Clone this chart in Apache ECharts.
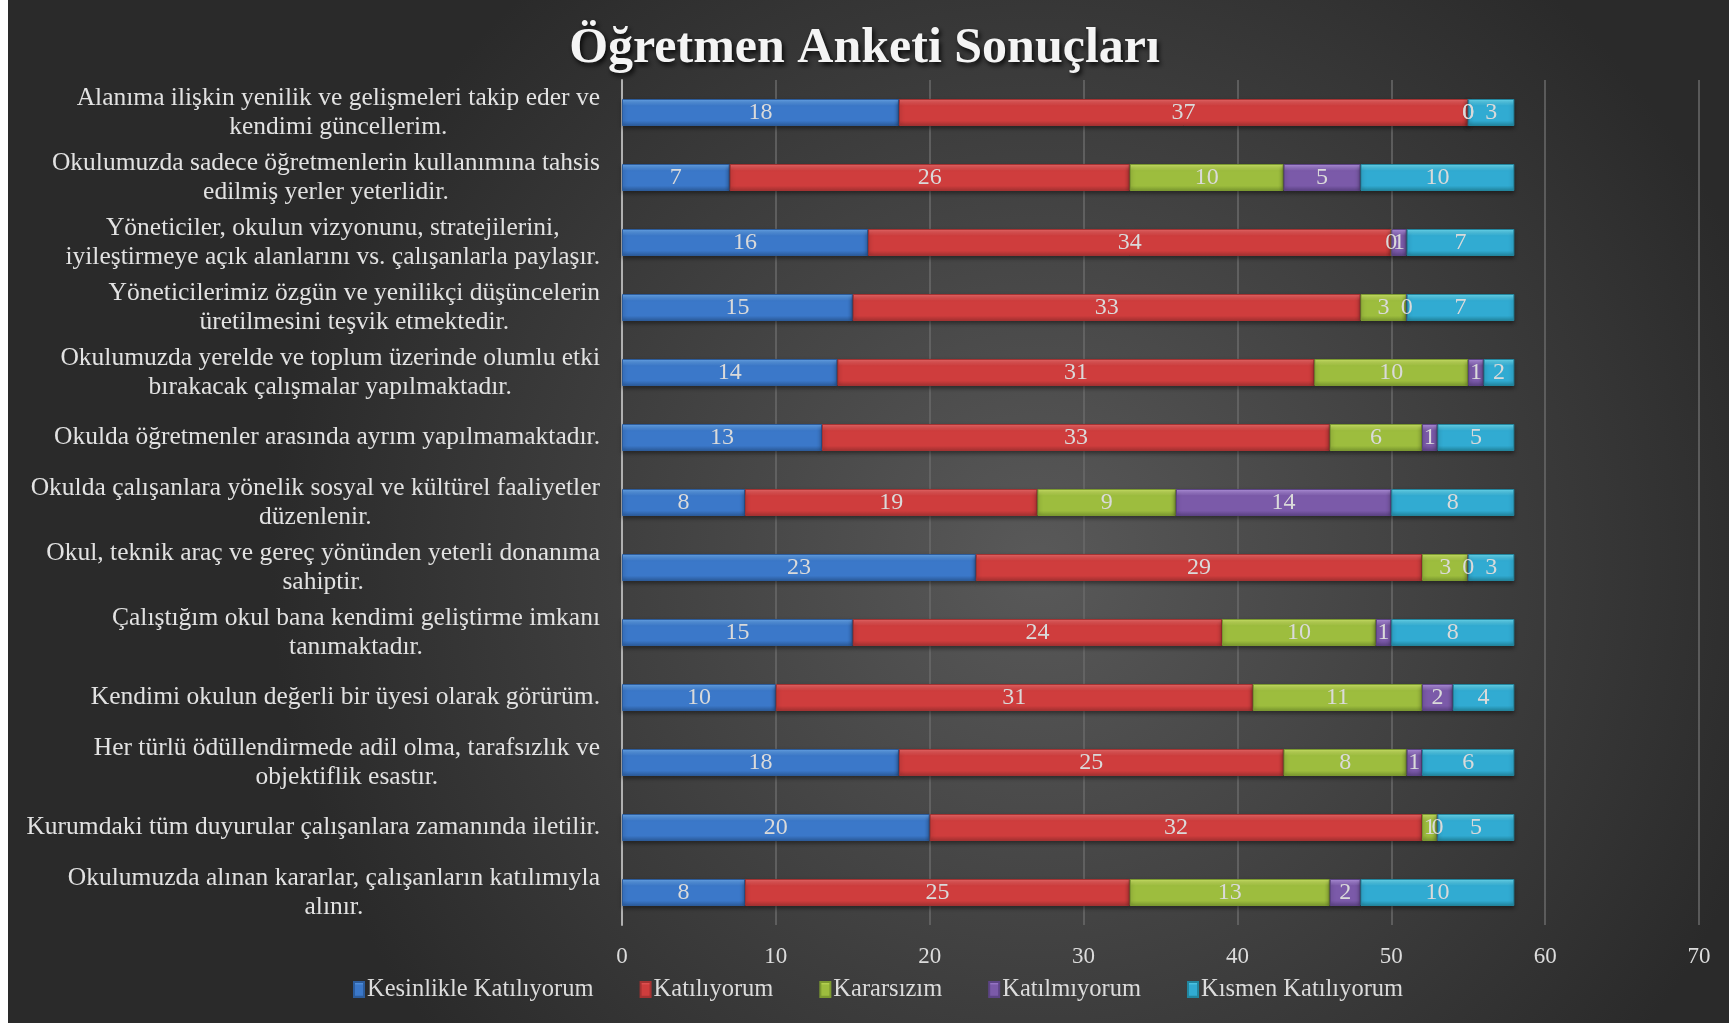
<!DOCTYPE html>
<html>
<head>
<meta charset="utf-8">
<script src="https://cdn.jsdelivr.net/npm/echarts@6/dist/echarts.min.js"></script>
<style>
  html, body { margin: 0; padding: 0; background: #fff; }
  #chart { width: 1729px; height: 1023px; }
</style>
</head>
<body>
<div id="chart"></div>
<script>
// anket maddeleri (üstten alta)
const categories = [
  'Alanıma ilişkin yenilik ve gelişmeleri takip eder ve\nkendimi güncellerim.',
  'Okulumuzda sadece öğretmenlerin kullanımına tahsis\nedilmiş yerler yeterlidir.',
  'Yöneticiler, okulun vizyonunu, stratejilerini,\niyileştirmeye açık alanlarını vs. çalışanlarla paylaşır.',
  'Yöneticilerimiz özgün ve yenilikçi düşüncelerin\nüretilmesini teşvik etmektedir.',
  'Okulumuzda yerelde ve toplum üzerinde olumlu etki\nbırakacak çalışmalar yapılmaktadır.',
  'Okulda öğretmenler arasında ayrım yapılmamaktadır.',
  'Okulda çalışanlara yönelik sosyal ve kültürel faaliyetler\ndüzenlenir.',
  'Okul, teknik araç ve gereç yönünden yeterli donanıma\nsahiptir.',
  'Çalıştığım okul bana kendimi geliştirme imkanı\ntanımaktadır.',
  'Kendimi okulun değerli bir üyesi olarak görürüm.',
  'Her türlü ödüllendirmede adil olma, tarafsızlık ve\nobjektiflik esastır.',
  'Kurumdaki tüm duyurular çalışanlara zamanında iletilir.',
  'Okulumuzda alınan kararlar, çalışanların katılımıyla\nalınır.'
];

const seriesNames = ['Kesinlikle Katılıyorum', 'Katılıyorum', 'Kararsızım', 'Katılmıyorum', 'Kısmen Katılıyorum'];

const kesinlikle = [18, 7, 16, 15, 14, 13, 8, 23, 15, 10, 18, 20, 8];
const katiliyorum = [37, 26, 34, 33, 31, 33, 19, 29, 24, 31, 25, 32, 25];
const kararsizim = [0, 10, 0, 3, 10, 6, 9, 3, 10, 11, 8, 1, 13];
const katilmiyorum = [0, 5, 1, 0, 1, 1, 14, 0, 1, 2, 1, 0, 2];
const kismen = [3, 10, 7, 7, 2, 5, 8, 3, 8, 4, 6, 5, 10];

const xTicks = [0, 70, 10]; // min, max, aralık

// bevel görünümü için renk üçlüleri: üst, orta, alt
const colors = [
  ['#6aaaf0', '#3b78c9', '#2c5c9c'],
  ['#f06a6a', '#cf3d3d', '#a53232'],
  ['#d2ea6a', '#9dbd3e', '#7c9a30'],
  ['#b898e6', '#7b5aa9', '#5d4486'],
  ['#6ee0f6', '#31abd2', '#22869f']
];

const allData = [kesinlikle, katiliyorum, kararsizim, katilmiyorum, kismen];
const fontFamily = '"Liberation Serif", "DejaVu Serif", serif';

const grad = (c) => new echarts.graphic.LinearGradient(0, 0, 0, 1, [
  { offset: 0, color: c[0] },
  { offset: 0.25, color: c[1] },
  { offset: 0.8, color: c[1] },
  { offset: 1, color: c[2] }
]);

const chart = echarts.init(document.getElementById('chart'), null, { renderer: 'canvas' });

const option = {
  backgroundColor: new echarts.graphic.RadialGradient(0.6, 0.55, 0.75, [
    { offset: 0, color: '#595959' },
    { offset: 1, color: '#2a2a2a' }
  ]),
  title: {
    text: 'Öğretmen Anketi Sonuçları',
    left: 'center',
    top: 19,
    textStyle: {
      fontFamily: fontFamily,
      fontSize: 50,
      fontWeight: 'bold',
      color: '#f4f4f4',
      textShadowColor: 'rgba(0,0,0,0.85)',
      textShadowBlur: 5,
      textShadowOffsetX: 2,
      textShadowOffsetY: 3
    }
  },
  graphic: [{
    type: 'rect',
    left: 0, top: 0,
    shape: { width: 8, height: 1023 },
    style: { fill: '#ffffff' }
  }],
  legend: {
    data: seriesNames,
    left: 348,
    top: 972,
    itemWidth: 10,
    itemHeight: 15,
    itemGap: 46,
    icon: 'rect',
    textStyle: { color: '#dcdcdc', fontSize: 24.5, fontFamily: fontFamily, padding: [0, 0, 0, -2] }
  },
  grid: {
    left: 622,
    right: 30,
    top: 80,
    bottom: 98
  },
  xAxis: {
    type: 'value',
    min: xTicks[0],
    max: xTicks[1],
    interval: xTicks[2],
    axisLine: { show: false },
    axisTick: { show: false },
    splitLine: { lineStyle: { color: '#6a6a6a', width: 1.5 } },
    axisLabel: { color: '#dcdcdc', fontSize: 23, fontFamily: fontFamily, margin: 20 }
  },
  yAxis: {
    type: 'category',
    data: categories,
    inverse: true,
    axisLine: { show: true, lineStyle: { color: '#b0b0b0', width: 2 } },
    axisTick: { show: false },
    splitLine: { show: false },
    axisLabel: {
      margin: 22,
      formatter: (v) => v.split('\n').map(l => '{c|' + l + '}').join('\n'),
      rich: {
        c: {
          align: 'center',
          color: '#e2e2e2',
          fontSize: 25.5,
          lineHeight: 29,
          fontFamily: fontFamily
        }
      }
    }
  },
  series: allData.map((d, i) => ({
    name: seriesNames[i],
    type: 'bar',
    stack: 'total',
    barWidth: 27,
    data: d,
    itemStyle: {
      color: grad(colors[i]),
      borderColor: colors[i][2],
      borderWidth: 1,
      shadowColor: 'rgba(0,0,0,0.4)',
      shadowBlur: 4,
      shadowOffsetY: 2
    },
    label: {
      show: true,
      position: 'inside',
      color: '#dadada',
      fontSize: 24,
      fontFamily: fontFamily,
      textBorderWidth: 0
    },
    emphasis: { disabled: true }
  }))
};

chart.setOption(option);
</script>
</body>
</html>
